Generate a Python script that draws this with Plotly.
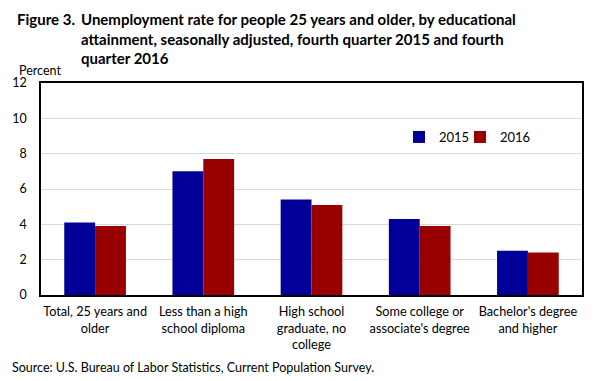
import plotly.graph_objects as go

categories = [
    "Total, 25 years and<br>older",
    "Less than a high<br>school diploma",
    "High school<br>graduate, no<br>college",
    "Some college or<br>associate's degree",
    "Bachelor's degree<br>and higher",
]
values_2015 = [4.1, 7.0, 5.4, 4.3, 2.5]
values_2016 = [3.9, 7.7, 5.1, 3.9, 2.4]
y_ticks = [0, 2, 4, 6, 8, 10, 12]

FONT = "Lato, sans-serif"

# page body has an 8px margin; figure is sized to fill the rest of the window
OFF = 8
W, H = 608 - OFF, 381 - OFF
PL, PR, PT, PB = 41, 582, 83, 295   # plot area edges in window pixels
pw, ph = PR - PL, PB - PT


def px(x):
    return (x - PL) / pw


def py(y):
    return (PB - y) / ph


fig = go.Figure()
fig.add_trace(go.Bar(x=categories, y=values_2015, name="2015", marker_color="#000099",
                     marker_line_width=0, legend="legend"))
fig.add_trace(go.Bar(x=categories, y=values_2016, name="2016", marker_color="#990000",
                     marker_line_width=0, legend="legend2"))

leg_common = dict(orientation="h", yanchor="middle", xanchor="left", y=py(137),
                  font=dict(size=13), itemwidth=30, bgcolor="rgba(0,0,0,0)")

fig.update_layout(
    width=W, height=H,
    margin=dict(l=PL - OFF, r=608 - PR, t=PT - OFF, b=381 - PB, autoexpand=False),
    paper_bgcolor="white", plot_bgcolor="white",
    barmode="group", bargap=0.43, bargroupgap=0,
    font=dict(family=FONT, size=13, color="black"),
    showlegend=True,
    legend=dict(x=px(399), **leg_common),
    legend2=dict(x=px(460), **leg_common),
    xaxis=dict(showline=True, linecolor="black", linewidth=1.5, mirror=True,
               ticks="", tickangle=0, automargin=False, tickfont=dict(size=12.7),
               ticklabelstandoff=4),
    yaxis=dict(range=[0, 12], tickvals=y_ticks, showline=True, linecolor="black",
               linewidth=1.5, mirror=True, showgrid=True, gridcolor="#d9d9d9",
               gridwidth=1, ticks="", tickfont=dict(size=12.5), zeroline=False,
               automargin=False, ticklabelstandoff=10),
)

fig.add_annotation(text="<b>Figure 3.</b>", xref="paper", yref="paper",
                   x=px(15), y=py(8), xanchor="left", yanchor="top",
                   showarrow=False, align="left", font=dict(size=15))
fig.add_annotation(text="<b>Unemployment rate for people 25 years and older, by educational<br>"
                        "attainment, seasonally adjusted, fourth quarter 2015 and fourth<br>"
                        "quarter 2016</b>",
                   xref="paper", yref="paper",
                   x=px(79), y=py(8), xanchor="left", yanchor="top",
                   showarrow=False, align="left", font=dict(size=15))
fig.add_annotation(text="Percent", xref="paper", yref="paper",
                   x=px(17), y=py(61), xanchor="left", yanchor="top",
                   showarrow=False, font=dict(size=12.5))
fig.add_annotation(text="Source: U.S. Bureau of Labor Statistics, Current Population Survey.",
                   xref="paper", yref="paper",
                   x=px(10), y=py(358), xanchor="left", yanchor="top",
                   showarrow=False, font=dict(size=12.5))

fig.write_html("out.html")
